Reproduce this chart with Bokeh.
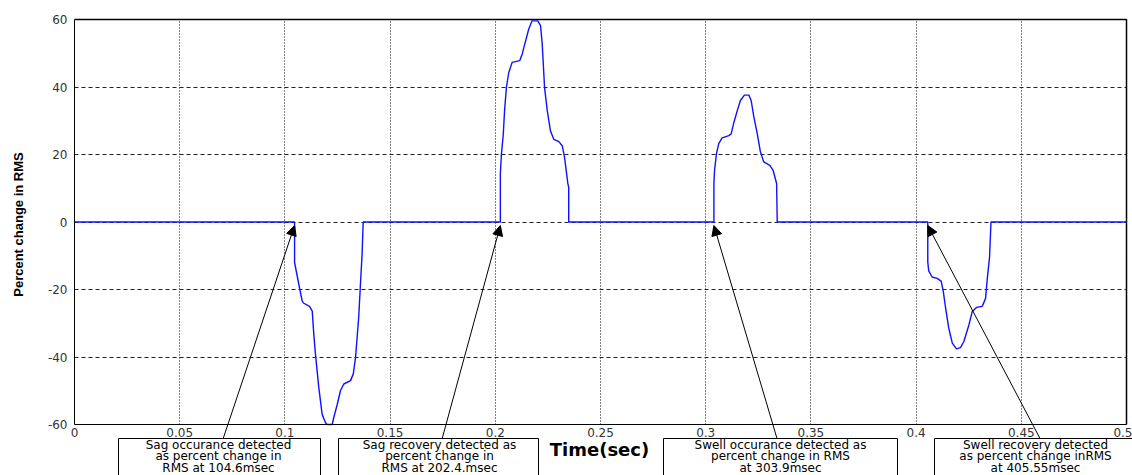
import math
from bokeh.plotting import figure
from bokeh.models import Range1d, FixedTicker, Arrow, NormalHead, BoxAnnotation, Label
from bokeh.embed import file_html
from bokeh.resources import INLINE

# ---------------- data ----------------
sag1_t = [0.1046, 0.1046, 0.1071, 0.1082, 0.1088, 0.1117, 0.1130, 0.1137, 0.1145, 0.1161,
          0.1177, 0.1193, 0.1201, 0.1225, 0.1232, 0.1249, 0.1264, 0.1280, 0.1312, 0.1325,
          0.1336, 0.1351, 0.1359, 0.1367, 0.1372]
sag1_y = [0, -12, -20, -23.4, -24, -25, -26.4, -33, -39, -49,
          -57, -59.5, -60, -60, -58, -54, -50, -48, -47, -45,
          -40, -28, -18.5, -9.5, 0]

swell1_t = [0.2024, 0.2024, 0.2029, 0.2038, 0.2044, 0.2053, 0.2064, 0.2080, 0.2116, 0.2128,
            0.2140, 0.2159, 0.2175, 0.2202, 0.2215, 0.2223, 0.2234, 0.2247, 0.2262, 0.2278,
            0.2302, 0.2318, 0.2329, 0.2345, 0.2349, 0.2349]
swell1_y = [0, 14.2, 20, 26, 33, 40, 44.3, 47.3, 47.8, 49.8,
            52.7, 57.2, 59.6, 59.6, 58.2, 52.7, 39.9, 33, 27, 24.5,
            23.8, 22.6, 19.2, 11.3, 10.3, 0]

swell2_t = [0.3039, 0.3039, 0.3042, 0.3051, 0.3062, 0.3078, 0.3110, 0.3121, 0.3134, 0.3150,
            0.3165, 0.3184, 0.3205, 0.3216, 0.3229, 0.3245, 0.3260, 0.3276, 0.3305, 0.3321,
            0.3337, 0.3340]
swell2_y = [0, 11.3, 15.2, 20.2, 23.2, 24.9, 25.6, 26.1, 29.5, 33,
            36, 37.6, 37.6, 36, 31.1, 26.2, 20.8, 17.8, 16.8, 15.2,
            11.4, 0]

sag2_t = [0.40555, 0.40555, 0.4060, 0.4076, 0.4100, 0.4119, 0.4129, 0.4140, 0.4155, 0.4172,
          0.4192, 0.4211, 0.4227, 0.4251, 0.4267, 0.4287, 0.4314, 0.4330, 0.4339, 0.4349,
          0.4356]
sag2_y = [0, -11.9, -14.5, -16.3, -16.7, -17.5, -20.5, -25.4, -31.4, -35.9,
          -37.6, -37.2, -35.4, -30.5, -26.5, -25.3, -25, -22.7, -16.4, -10.5,
          0]

x_ticks = [0, 0.05, 0.1, 0.15, 0.2, 0.25, 0.3, 0.35, 0.4, 0.45, 0.5]
x_tick_labels = ["0", "0.05", "0.1", "0.15", "0.2", "0.25", "0.3", "0.35", "0.4", "0.45", "0.5"]
y_ticks = [-60, -40, -20, 0, 20, 40, 60]
y_tick_labels = ["-60", "-40", "-20", "0", "20", "40", "60"]

x_title = "Time(sec)"
y_title = "Percent change in RMS"

event_times = [0.1046, 0.2024, 0.3039, 0.40555]
note_lines = [
    ["Sag occurance detected", "as percent change in", "RMS at 104.6msec"],
    ["Sag recovery detected as", "percent change in", "RMS at 202.4.msec"],
    ["Swell occurance detected as", "percent change in RMS", "at 303.9msec"],
    ["Swell recovery detected", "as percent change inRMS", "at 405.55msec"],
]

t_all = [0.0] + sag1_t + swell1_t + swell2_t + sag2_t + [0.5]
y_all = [0.0] + sag1_y + swell1_y + swell2_y + sag2_y + [0.0]

X0, X1 = x_ticks[0], x_ticks[-1]
Y0, Y1 = y_ticks[0], y_ticks[-1]

# ---------------- layout (page pixels) ----------------
W, H = 1132, 475
LEFT, RIGHT, TOP, AX_BOTTOM = 74, 1126, 19, 424
PX_X = (RIGHT - LEFT) / (X1 - X0)
PX_Y = (AX_BOTTOM - TOP) / (Y1 - Y0)

def xpix(px):   # page column -> data x
    return X0 + (px - LEFT) / PX_X

def ypix(py):   # page row -> data y
    return Y1 - (py - TOP) / PX_Y

p = figure(width=W, height=H, x_range=Range1d(xpix(0), xpix(W)), y_range=Range1d(ypix(H), ypix(0)),
           output_backend="svg", toolbar_location=None,
           min_border_left=0, min_border_right=0, min_border_top=0, min_border_bottom=0)
p.background_fill_color = "white"
p.border_fill_color = "white"
p.outline_line_color = None

# axes (drawn at fixed data locations so the notes below the axis are not clipped)
p.xaxis.fixed_location = Y0
p.yaxis.fixed_location = X0
p.xaxis.bounds = (X0, X1)
p.yaxis.bounds = (Y0, Y1)
p.xaxis.ticker = FixedTicker(ticks=x_ticks)
p.yaxis.ticker = FixedTicker(ticks=y_ticks)
p.xaxis.major_label_overrides = dict(zip(x_ticks, x_tick_labels))
p.yaxis.major_label_overrides = dict(zip(y_ticks, y_tick_labels))
for ax in (p.xaxis, p.yaxis):
    ax.major_tick_out = 0
    ax.major_tick_in = 0
    ax.minor_tick_out = 0
    ax.minor_tick_in = 0
    ax.axis_line_color = "black"
    ax.major_label_text_font = "DejaVu Sans"
    ax.major_label_text_font_size = "12px"
    ax.major_label_text_color = "#333333"
p.xaxis.major_label_standoff = 3
p.yaxis.major_label_standoff = 7

# axis titles
p.add_layout(Label(x=xpix(599), y=ypix(449), text=x_title, text_align="center",
                   text_baseline="middle", text_font="DejaVu Sans", text_font_style="bold",
                   text_font_size="18px", text_color="black"))
p.add_layout(Label(x=xpix(18), y=ypix(224), text=y_title, angle=math.pi / 2,
                   text_align="center", text_baseline="middle", text_font="Liberation Sans",
                   text_font_style="bold", text_font_size="13px", text_color="black"))

# grids
p.xgrid.ticker = FixedTicker(ticks=x_ticks[1:-1])
p.ygrid.ticker = FixedTicker(ticks=y_ticks[1:-1])
p.xgrid.cross_bounds = (Y0, Y1)
p.ygrid.cross_bounds = (X0, X1)
p.xgrid.grid_line_color = "black"
p.xgrid.grid_line_dash = "1 2"
p.xgrid.grid_line_width = 1
p.ygrid.grid_line_color = "#222222"
p.ygrid.grid_line_dash = "4 3"
p.ygrid.grid_line_width = 1

# box lines on top and right of the axes area (from the axis limits)
p.line(x=[X0, X1, X1], y=[Y1, Y1, Y0], line_color="black", line_width=1.5)

# signal
p.line(t_all, y_all, line_color="#1010ff", line_width=1.4)

# annotation boxes below the axis
box_px = [(118, 320), (338, 538), (663, 897), (934, 1150)]
text_px = [218, 439, 780, 1035]
arrow_px = [222.7, 441.7, 776.5, 1039.5]
box_top = ypix(438)
box_bottom = ypix(490)
line_y = [ypix(444), ypix(455.5), ypix(467)]

for i, ev in enumerate(event_times):
    l, r = box_px[i]
    p.add_layout(BoxAnnotation(left=xpix(l), right=xpix(r), top=box_top, bottom=box_bottom,
                               fill_color="white", fill_alpha=1.0,
                               line_color="black", line_width=1, line_alpha=1.0))
    for j, txt in enumerate(note_lines[i]):
        p.add_layout(Label(x=xpix(text_px[i]), y=line_y[j], text=txt,
                           text_align="center", text_baseline="middle",
                           text_font="DejaVu Sans", text_font_size="12px",
                           text_color="black"))
    p.add_layout(Arrow(x_start=xpix(arrow_px[i]), y_start=box_top, x_end=ev, y_end=ypix(225),
                       line_color="black", line_width=1,
                       end=NormalHead(size=10, fill_color="black", line_color="black")))

open("out.html", "w").write(file_html(p, INLINE))
